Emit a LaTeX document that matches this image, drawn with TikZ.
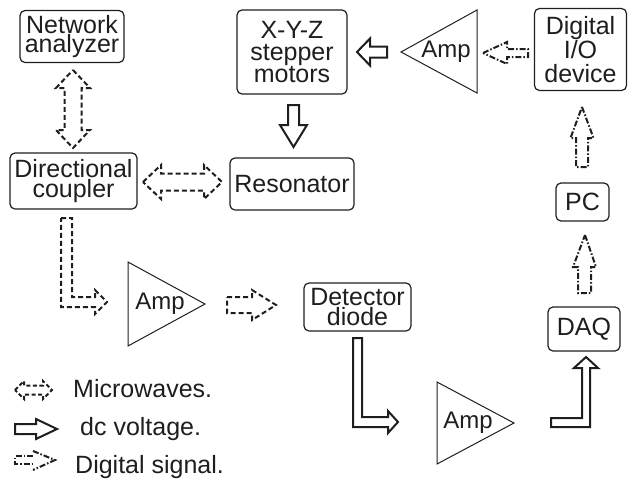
\documentclass[tikz,border=0pt]{standalone}
\usepackage{fontspec}
\setmainfont{Liberation Sans}
\begin{document}
\begin{tikzpicture}[x=1pt,y=-1pt,
  box/.style={draw=inkc, line width=1.2pt, rounded corners=5pt, inner sep=0pt, align=center, text=inkc},
  fnt/.style={font=\fontsize{25}{#1}\selectfont},
  mw/.style={draw=inkc, line width=2pt, dash pattern=on 5pt off 3pt, line join=miter},
  dcv/.style={draw=inkc, line width=2pt, line join=miter},
  dig/.style={draw=inkc, line width=2pt, dash pattern=on 6pt off 2pt on 1.5pt off 2pt, line join=miter},
  tri/.style={draw=inkc, line width=1pt, line join=miter},
  lbl/.style={inner sep=0pt, text=inkc, font=\fontsize{25}{20}\selectfont}]
\definecolor{inkc}{RGB}{30,30,30}
\useasboundingbox (0,0) rectangle (628,480);

% boxes
\node[box, fnt=17.5, minimum width=104pt, minimum height=52pt] (na) at (72,36.5) {Network\\analyzer};
\node[box, fnt=20, minimum width=127pt, minimum height=56pt] (dc) at (73.5,181) {Directional\\coupler};
\node[box, fnt=22, minimum width=110pt, minimum height=84pt] (xyz) at (292,52) {X-Y-Z\\stepper\\motors};
\node[box, fnt=20, minimum width=124pt, minimum height=52pt] (res) at (292,184) {Resonator};
\node[box, fnt=24, minimum width=92pt, minimum height=82pt] (dio) at (580.5,49.5) {Digital\\I/O\\device};
\node[box, fnt=20, minimum width=53pt, minimum height=38pt] (pc) at (582.5,202) {PC};
\node[box, fnt=20, minimum width=72pt, minimum height=44pt] (daq) at (584,329) {DAQ};
\node[box, fnt=17, minimum width=107pt, minimum height=48pt] (det) at (357.5,307) {Detector\\diode};

% amplifiers
\draw[tri] (401,52) -- (477,10) -- (477,93) -- cycle;
\node[lbl, font=\fontsize{24}{20}\selectfont] (amp1) at (446,52) {Amp};
\draw[tri] (128,262) -- (205,304) -- (128,346) -- cycle;
\node[lbl, font=\fontsize{24}{20}\selectfont] (amp2) at (160,304) {Amp};
\draw[tri] (437,382) -- (514,423) -- (437,464) -- cycle;
\node[lbl, font=\fontsize{24}{20}\selectfont] (amp3) at (468,423) {Amp};

% microwave arrows
\draw[mw] (73,70) -- (90,88) -- (81.5,88) -- (81.5,130) -- (90,130) -- (73,148)
  -- (56,130) -- (64.5,130) -- (64.5,88) -- (56,88) -- cycle;
\draw[mw] (143,182) -- (161,165) -- (161,173.5) -- (204,173.5) -- (204,165) -- (222,182)
  -- (204,199) -- (204,190.5) -- (161,190.5) -- (161,199) -- cycle;
\draw[mw] (61,218) -- (72,218) -- (72,297) -- (95,297) -- (95,290) -- (107,302)
  -- (95,314) -- (95,307) -- (61,307) -- cycle;
\draw[mw] (227,297) -- (252,297) -- (252,290) -- (276,305) -- (252,320) -- (252,313)
  -- (227,313) -- cycle;

% dc voltage arrows
\draw[dcv] (288,105) -- (299,105) -- (299,125) -- (307,125) -- (293.5,147) -- (280,125)
  -- (288,125) -- cycle;
\draw[dcv] (357,52) -- (370,38.5) -- (370,46.5) -- (387,46.5) -- (387,57.5) -- (370,57.5)
  -- (370,65.5) -- cycle;
\draw[dcv] (353,338) -- (362,338) -- (362,417) -- (388,417) -- (388,411) -- (398,422)
  -- (388,433) -- (388,427) -- (353,427) -- cycle;
\draw[dcv] (551,418) -- (582,418) -- (582,368) -- (574,368) -- (586,357) -- (598,368)
  -- (590,368) -- (590,427) -- (551,427) -- cycle;

% digital arrows
\draw[dig] (483,53) -- (507,42) -- (507,49) -- (528,49) -- (528,57) -- (507,57)
  -- (507,64) -- cycle;
\draw[dig] (585,235) -- (596,267) -- (591,267) -- (591,293) -- (578,293) -- (578,267)
  -- (573,267) -- cycle;
\draw[dig] (582,107) -- (593.5,138) -- (588,138) -- (588,167) -- (576,167) -- (576,138)
  -- (570.5,138) -- cycle;

% legend
\draw[mw, dash pattern=on 4pt off 2.5pt] (15,390) -- (24,381) -- (24,385.5) -- (43,385.5) -- (43,381) -- (52,390)
  -- (43,399) -- (43,394.5) -- (24,394.5) -- (24,399) -- cycle;
\node[lbl, anchor=base west] (lmw) at (73,397) {Microwaves.};
\draw[dcv] (15,424) -- (36,424) -- (36,419) -- (57,429) -- (36,439) -- (36,434) -- (15,434) -- cycle;
\node[lbl, anchor=base west] (ldc) at (80,435) {dc voltage.};
\draw[dig] (33,456) -- (15,456) -- (15,464) -- (33,464);
\draw[dig] (33,451) -- (55,460) -- (33,470);
\node[lbl, anchor=base west] (ldig) at (75,473) {Digital signal.};
\end{tikzpicture}
\end{document}
